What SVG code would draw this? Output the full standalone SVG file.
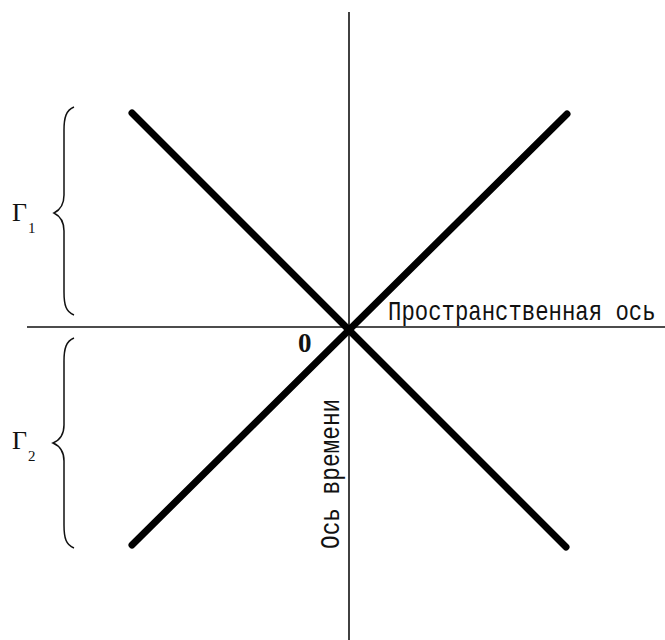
<svg xmlns="http://www.w3.org/2000/svg" width="665" height="640" viewBox="0 0 665 640">
<style>
.axis{stroke:#111;stroke-width:1.6;fill:none}
.cone{stroke:#000;stroke-width:7;stroke-linecap:round;fill:none}
.brace{stroke:#111;stroke-width:1.5;fill:none}
.mono{font-family:"Liberation Mono","DejaVu Sans Mono",monospace;font-size:23px;fill:#111}
.serif{font-family:"Liberation Serif","DejaVu Serif",serif;fill:#111}
</style>
<rect width="665" height="640" fill="#fff"/>
<g id="connectors">
<line class="axis" x1="27" y1="327" x2="665" y2="327"/>
<line class="axis" x1="349" y1="12" x2="349" y2="640"/>
<line class="cone" x1="132" y1="113" x2="566" y2="547"/>
<line class="cone" x1="567" y1="114" x2="132" y2="545"/>
</g>
<g id="label-space">
<text class="mono" transform="translate(388,320) scale(0.97,1.17)" x="0" y="0">Пространственная ось</text>
</g>
<g id="label-time">
<text class="mono" transform="translate(339,549) rotate(-90) scale(0.99,1.17)" x="0" y="0">Ось времени</text>
</g>
<g id="origin">
<text class="serif" x="298" y="352" font-size="27" font-weight="bold">0</text>
</g>
<g id="gamma1">
<path class="brace" d="M74,107 C66,110 64,118 64,130 L64,195 C64,205 60,210 54,213 C60,216 64,221 64,231 L64,292 C64,305 66,312 74,315"/>
<text class="serif" x="12" y="221" font-size="26">Γ</text>
<text class="serif" x="28" y="233" font-size="15">1</text>
</g>
<g id="gamma2">
<path class="brace" d="M74,338 C66,341 64,349 64,361 L64,425 C64,435 60,440 53,443 C60,446 64,451 64,461 L64,525 C64,538 66,545 74,548"/>
<text class="serif" x="12" y="449" font-size="26">Γ</text>
<text class="serif" x="28" y="461" font-size="15">2</text>
</g>
</svg>
